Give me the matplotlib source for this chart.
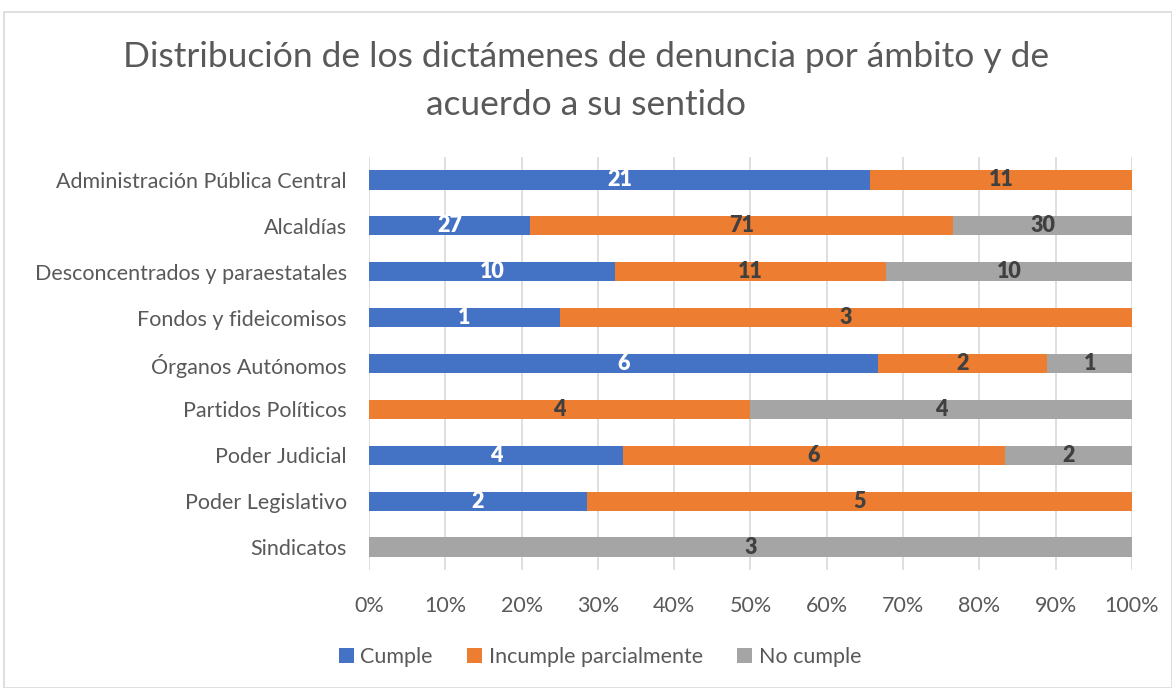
import matplotlib
matplotlib.use("Agg")
import matplotlib.pyplot as plt
from matplotlib.patches import Rectangle
import numpy as np

categories = ["Administración Pública Central", "Alcaldías", "Desconcentrados y paraestatales",
              "Fondos y fideicomisos", "Órganos Autónomos", "Partidos Políticos",
              "Poder Judicial", "Poder Legislativo", "Sindicatos"]
cumple = [21, 27, 10, 1, 6, 0, 4, 2, 0]
incumple = [11, 71, 11, 3, 2, 4, 6, 5, 0]
no_cumple = [0, 30, 10, 0, 1, 4, 2, 0, 3]
series_names = ["Cumple", "Incumple parcialmente", "No cumple"]
colors = ["#4472C4", "#ED7D31", "#A5A5A5"]
label_colors = ["white", "#404040", "#404040"]
xticks = np.arange(0, 1.01, 0.1)
xticklabels = [f"{int(round(t*100))}%" for t in xticks]

plt.rcParams['font.family'] = ['Lato', 'DejaVu Sans']

fig = plt.figure(figsize=(11.72, 6.88), dpi=100)
fig.patches.append(Rectangle((0.003, 0.0), 0.997, 0.983, transform=fig.transFigure,
                             fill=False, edgecolor="#D9D9D9", linewidth=1.2))
ax = fig.add_axes([0.3148, 0.1715, 0.6511, 0.6003])

data = np.array([cumple, incumple, no_cumple], dtype=float)
totals = data.sum(axis=0)
frac = data / totals
y = np.arange(len(categories))
left = np.zeros(len(categories))
for i in range(3):
    ax.barh(y, frac[i], left=left, height=0.42, color=colors[i], label=series_names[i], zorder=3)
    for j in range(len(categories)):
        if data[i, j] > 0:
            ax.text(left[j] + frac[i, j] / 2, y[j], f"{int(data[i, j])}", ha="center", va="center",
                    color=label_colors[i], fontsize=15.5, fontweight="heavy", zorder=4)
    left += frac[i]

ax.set_ylim(len(categories) - 0.5, -0.5)
ax.set_xlim(0, 1)
ax.set_xticks(xticks)
ax.set_xticklabels(xticklabels)
ax.set_yticks(y)
ax.set_yticklabels(categories)
ax.tick_params(axis="both", length=0, labelsize=15.5, labelcolor="#595959")
ax.tick_params(axis="y", pad=16)
ax.tick_params(axis="x", pad=19)
ax.grid(axis="x", color="#D9D9D9", linewidth=1.2, zorder=0)
for s in ax.spines.values():
    s.set_visible(False)

fig.text(0.5, 0.917, "Distribución de los dictámenes de denuncia por ámbito y de",
         ha="center", va="center", fontsize=25.5, color="#595959", fontweight="normal")
fig.text(0.5, 0.848, "acuerdo a su sentido",
         ha="center", va="center", fontsize=25.5, color="#595959", fontweight="normal")

fig.legend(loc="center", bbox_to_anchor=(0.512, 0.045), ncol=3, frameon=False,
           fontsize=15.5, labelcolor="#595959", handlelength=0.7, handleheight=0.7,
           handletextpad=0.3, columnspacing=1.6)

fig.savefig("out.png", dpi=100)
